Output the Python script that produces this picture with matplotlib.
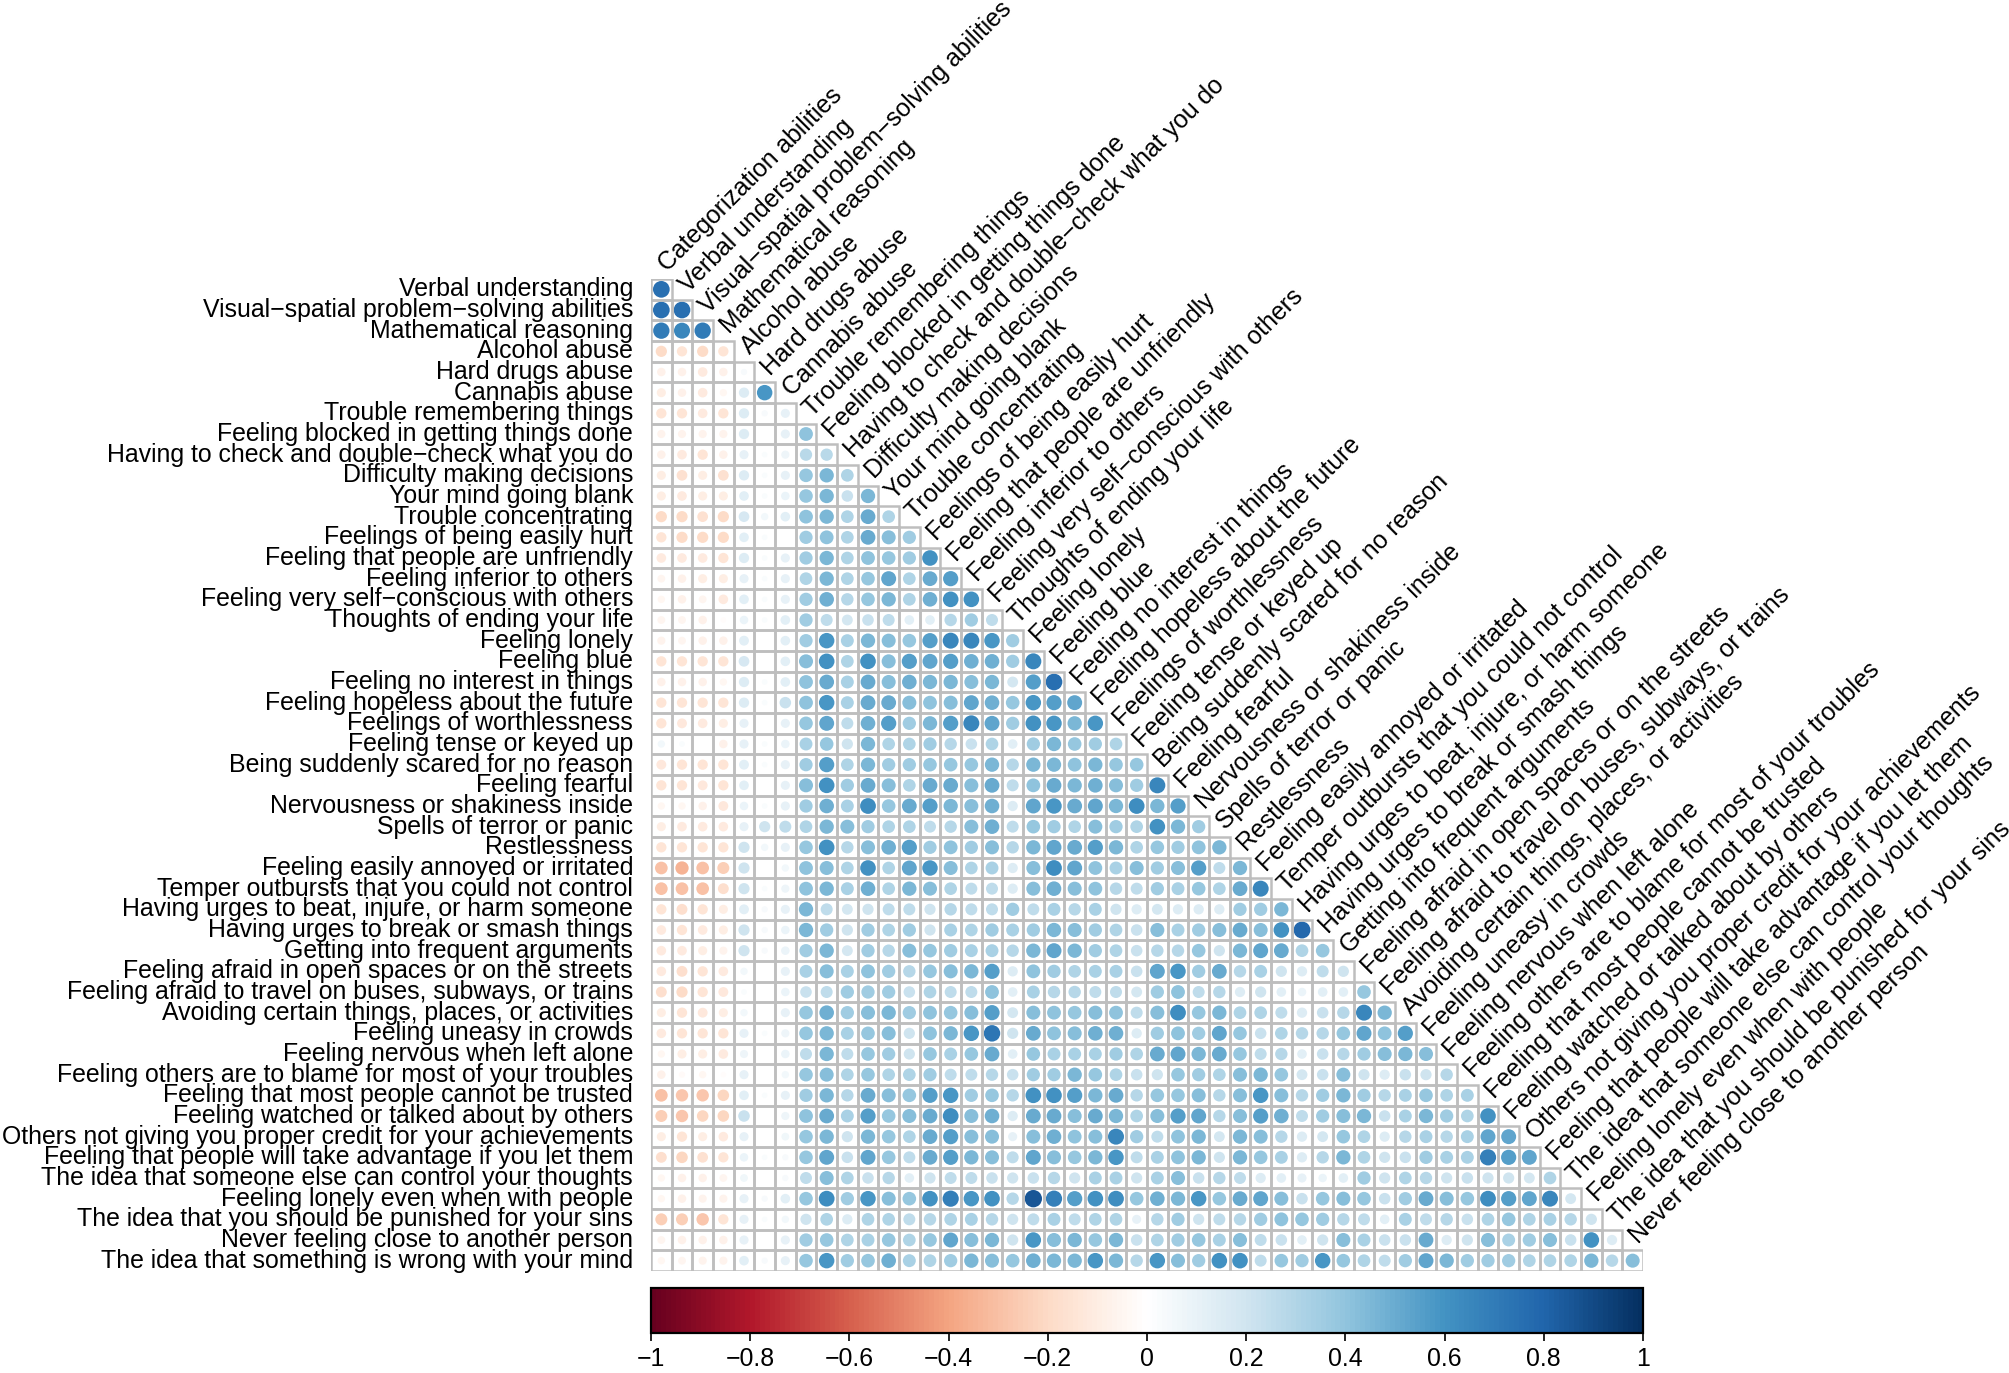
import matplotlib
matplotlib.use("Agg")
import matplotlib as mpl
import matplotlib.pyplot as plt
import numpy as np
from matplotlib.colors import LinearSegmentedColormap, Normalize
from matplotlib.patches import Circle, Rectangle

plt.rcParams['font.family'] = ['Liberation Sans', 'DejaVu Sans']

# variable names (rows use labels[1:], columns use labels[:-1])
labels = [
    "Categorization abilities",
    "Verbal understanding",
    "Visual\u2212spatial problem\u2212solving abilities",
    "Mathematical reasoning",
    "Alcohol abuse",
    "Hard drugs abuse",
    "Cannabis abuse",
    "Trouble remembering things",
    "Feeling blocked in getting things done",
    "Having to check and double\u2212check what you do",
    "Difficulty making decisions",
    "Your mind going blank",
    "Trouble concentrating",
    "Feelings of being easily hurt",
    "Feeling that people are unfriendly",
    "Feeling inferior to others",
    "Feeling very self\u2212conscious with others",
    "Thoughts of ending your life",
    "Feeling lonely",
    "Feeling blue",
    "Feeling no interest in things",
    "Feeling hopeless about the future",
    "Feelings of worthlessness",
    "Feeling tense or keyed up",
    "Being suddenly scared for no reason",
    "Feeling fearful",
    "Nervousness or shakiness inside",
    "Spells of terror or panic",
    "Restlessness",
    "Feeling easily annoyed or irritated",
    "Temper outbursts that you could not control",
    "Having urges to beat, injure, or harm someone",
    "Having urges to break or smash things",
    "Getting into frequent arguments",
    "Feeling afraid in open spaces or on the streets",
    "Feeling afraid to travel on buses, subways, or trains",
    "Avoiding certain things, places, or activities",
    "Feeling uneasy in crowds",
    "Feeling nervous when left alone",
    "Feeling others are to blame for most of your troubles",
    "Feeling that most people cannot be trusted",
    "Feeling watched or talked about by others",
    "Others not giving you proper credit for your achievements",
    "Feeling that people will take advantage if you let them",
    "The idea that someone else can control your thoughts",
    "Feeling lonely even when with people",
    "The idea that you should be punished for your sins",
    "Never feeling close to another person",
    "The idea that something is wrong with your mind",
]

# lower triangle correlations (x100), row i vs columns 1..i
corr_rows = [
    [75],
    [75, 75],
    [70, 65, 70],
    [-20, -15, -20, -15],
    [-8, -8, -12, -8, 3],
    [-10, -8, -12, -5, 15, 58],
    [-15, -15, -12, -15, 15, 3, 10],
    [-7, -7, -7, -7, 15, 0, 10, 40],
    [-8, -12, -15, -8, 10, 2, 7, 27, 27],
    [-10, -17, -10, -17, 15, 2, 10, 38, 45, 30],
    [-10, -12, -10, -10, 12, 2, 8, 38, 45, 22, 45],
    [-20, -20, -17, -20, 17, 5, 12, 40, 45, 30, 50, 30],
    [-15, -20, -20, -20, 12, 2, 0, 35, 40, 30, 50, 42, 35],
    [-12, -12, -12, -15, 15, 2, 10, 35, 45, 30, 40, 38, 35, 60],
    [-6, -8, -10, -10, 10, 2, 10, 30, 45, 30, 38, 52, 30, 50, 55],
    [-5, -8, -6, -12, 12, 2, 10, 35, 48, 28, 38, 45, 30, 48, 60, 60],
    [-6, -6, -8, -2, 8, 2, 12, 35, 25, 18, 22, 25, 12, 12, 28, 35, 25],
    [-7, -6, -8, -8, 13, 0, 12, 35, 58, 32, 45, 42, 38, 55, 65, 65, 58, 35],
    [-15, -15, -15, -15, 17, 0, 12, 42, 60, 30, 60, 42, 55, 52, 55, 48, 48, 35, 65],
    [-8, -8, -8, -5, 15, 2, 12, 40, 50, 32, 50, 42, 48, 45, 45, 42, 45, 18, 55, 75],
    [-15, -15, -15, -15, 15, 2, 22, 40, 58, 32, 50, 50, 42, 40, 42, 52, 48, 38, 58, 55, 52],
    [-15, -13, -12, -10, 10, 0, 10, 38, 52, 25, 48, 55, 35, 45, 55, 65, 52, 35, 60, 58, 45, 58],
    [5, 2, 0, -8, 10, 2, 8, 32, 38, 20, 45, 30, 30, 35, 28, 22, 30, 12, 35, 45, 38, 35, 30],
    [-13, -15, -15, -15, 13, 2, 10, 35, 55, 30, 45, 35, 35, 38, 38, 38, 45, 28, 45, 45, 40, 45, 38, 38],
    [-15, -15, -13, -15, 12, 0, 10, 42, 60, 35, 50, 42, 30, 50, 50, 42, 50, 25, 40, 50, 45, 48, 42, 35, 65],
    [-5, -5, -8, -13, 8, 2, 10, 35, 48, 32, 62, 38, 50, 55, 45, 42, 48, 15, 52, 58, 50, 52, 45, 62, 45, 55],
    [-10, -12, -12, -12, 10, 20, 25, 30, 45, 42, 35, 30, 30, 25, 28, 42, 48, 25, 38, 35, 30, 42, 35, 30, 60, 45, 35],
    [-15, -15, -15, -15, 20, 5, 10, 38, 60, 28, 42, 48, 55, 35, 40, 35, 42, 28, 45, 52, 50, 55, 45, 30, 38, 35, 40, 45],
    [-30, -35, -30, -25, 20, 0, 5, 40, 42, 30, 60, 30, 52, 58, 42, 30, 32, 15, 42, 62, 52, 40, 32, 42, 35, 42, 55, 25, 45],
    [-30, -30, -30, -18, 20, 2, 7, 40, 45, 32, 48, 30, 45, 42, 30, 25, 25, 15, 42, 48, 42, 40, 28, 25, 35, 32, 38, 30, 50, 65],
    [-15, -18, -15, -10, 13, 3, 10, 45, 25, 18, 20, 25, 25, 20, 28, 25, 25, 35, 25, 32, 28, 32, 20, 15, 18, 15, 15, 15, 35, 35, 45],
    [-12, -15, -12, -10, 20, 3, 8, 45, 35, 20, 35, 30, 35, 20, 32, 30, 35, 32, 35, 45, 42, 35, 30, 22, 42, 32, 35, 42, 50, 42, 60, 78],
    [-12, -12, -10, -7, 20, 3, 8, 35, 45, 18, 35, 28, 42, 38, 35, 32, 32, 28, 45, 52, 45, 35, 30, 22, 28, 28, 38, 20, 45, 52, 50, 30, 38],
    [-12, -18, -15, -12, 5, 0, 10, 32, 42, 32, 40, 35, 28, 38, 42, 45, 55, 15, 40, 35, 30, 32, 32, 22, 52, 58, 35, 50, 28, 32, 20, 15, 25, 20],
    [-18, -20, -15, -13, 2, 0, 8, 22, 25, 35, 35, 35, 22, 30, 25, 25, 40, 12, 32, 28, 28, 25, 25, 18, 35, 40, 25, 28, 15, 20, 12, 8, 12, 12, 38],
    [-10, -15, -13, -10, 5, 0, 10, 38, 48, 35, 42, 45, 35, 40, 38, 42, 55, 18, 42, 40, 38, 42, 40, 25, 42, 62, 38, 45, 30, 30, 25, 15, 22, 28, 65, 45],
    [-12, -15, -15, -15, 10, 2, 7, 38, 45, 32, 38, 42, 20, 40, 45, 58, 72, 20, 50, 40, 42, 48, 48, 15, 35, 40, 35, 52, 38, 22, 30, 28, 28, 38, 52, 40, 55],
    [-5, -10, -10, -12, 7, 0, 8, 25, 45, 25, 38, 35, 20, 38, 32, 38, 50, 12, 38, 32, 32, 32, 35, 30, 50, 52, 45, 50, 38, 25, 28, 12, 22, 28, 35, 42, 45, 42],
    [-8, -3, -5, -2, 10, 0, 5, 38, 42, 30, 38, 30, 30, 35, 25, 25, 28, 22, 35, 35, 45, 38, 30, 22, 20, 38, 35, 30, 42, 45, 38, 18, 22, 42, 20, 15, 22, 20, 28],
    [-30, -28, -28, -22, 12, 2, 10, 35, 45, 28, 50, 42, 38, 55, 58, 35, 38, 28, 60, 60, 55, 45, 50, 28, 38, 38, 42, 28, 42, 58, 42, 28, 35, 45, 35, 28, 32, 38, 30, 32],
    [-25, -28, -22, -22, 22, 0, 7, 40, 50, 32, 55, 38, 42, 50, 62, 42, 48, 15, 50, 50, 42, 50, 45, 30, 42, 55, 52, 28, 42, 55, 48, 25, 35, 42, 45, 22, 32, 45, 35, 30, 60],
    [-10, -15, -10, -12, 10, 0, 6, 38, 45, 20, 45, 38, 30, 50, 55, 42, 42, 10, 42, 48, 40, 42, 65, 35, 25, 40, 45, 18, 45, 42, 28, 15, 18, 38, 30, 15, 28, 32, 28, 32, 52, 52],
    [-18, -22, -17, -15, 8, 2, 3, 38, 52, 22, 52, 38, 25, 50, 55, 45, 42, 25, 52, 42, 38, 45, 58, 25, 32, 40, 45, 20, 45, 38, 32, 15, 28, 45, 30, 20, 22, 35, 32, 32, 68, 55, 52],
    [-5, -8, -8, -6, 6, 0, 3, 25, 42, 30, 22, 28, 12, 20, 25, 25, 22, 20, 22, 28, 20, 32, 32, 20, 32, 42, 22, 28, 25, 15, 12, 10, 8, 12, 35, 20, 30, 28, 20, 22, 20, 20, 18, 30],
    [-5, -8, -7, -7, 10, 3, 12, 38, 62, 35, 58, 42, 38, 60, 68, 58, 60, 28, 85, 68, 55, 60, 62, 38, 48, 45, 58, 38, 50, 52, 42, 22, 38, 42, 38, 22, 35, 50, 42, 38, 62, 55, 52, 65, 18],
    [-25, -25, -28, -15, 10, 2, 5, 20, 30, 15, 30, 30, 25, 28, 30, 32, 28, 20, 25, 32, 25, 30, 30, 10, 28, 35, 20, 25, 28, 35, 40, 38, 35, 28, 25, 12, 32, 25, 28, 22, 30, 38, 30, 32, 28, 20],
    [-6, -8, -8, -8, 10, 0, 10, 35, 38, 30, 32, 38, 30, 38, 52, 42, 45, 20, 58, 42, 45, 38, 45, 22, 30, 35, 38, 32, 42, 25, 22, 12, 20, 42, 32, 22, 22, 50, 15, 20, 42, 32, 35, 42, 22, 60, 15],
    [-5, -6, -7, -7, 12, 3, 10, 38, 58, 35, 38, 48, 32, 30, 35, 45, 42, 38, 48, 45, 45, 58, 45, 28, 58, 42, 35, 60, 60, 25, 38, 35, 58, 38, 30, 25, 35, 52, 45, 35, 35, 35, 30, 30, 30, 45, 28, 42],
]

cbar_ticks = [-1, -0.8, -0.6, -0.4, -0.2, 0, 0.2, 0.4, 0.6, 0.8, 1]
cbar_labels = ["\u22121", "\u22120.8", "\u22120.6", "\u22120.4", "\u22120.2", "0",
               "0.2", "0.4", "0.6", "0.8", "1"]

# corrplot's RdBu palette
rdbu = ["#67001F", "#B2182B", "#D6604D", "#F4A582", "#FDDBC7", "#FFFFFF",
        "#D1E5F0", "#92C5DE", "#4393C3", "#2166AC", "#053061"]
cmap = LinearSegmentedColormap.from_list("corrplot_rdbu", rdbu, N=200)
norm = Normalize(-1, 1)

n = len(labels) - 1
for i, row in enumerate(corr_rows):
    assert len(row) == i + 1, i

W, H = 2009, 1373
fig = plt.figure(figsize=(W / 100, H / 100), dpi=100)
ax = fig.add_axes([651 / W, 1 - 1271 / H, 992 / W, 992 / H])
ax.set_xlim(0.5, n + 0.5)
ax.set_ylim(n + 0.5, 0.5)
ax.axis('off')

fs = 17.9
for r, row in enumerate(corr_rows, start=1):
    for c, v in enumerate(row, start=1):
        v = v / 100
        ax.add_patch(Rectangle((c - 0.5, r - 0.5), 1, 1, fill=False,
                               edgecolor='#BEBEBE', lw=1.8, zorder=3))
        rad = min(0.44 * abs(v) ** 0.3, 0.46)
        if rad > 0:
            ax.add_patch(Circle((c, r), rad, facecolor=cmap(norm(v)),
                                edgecolor='none', zorder=2))
    ax.text(-0.37, r, labels[r], ha='right', va='center', fontsize=fs)

for c in range(1, n + 1):
    ax.text(c + 0.3, c - 0.8, labels[c - 1], rotation=45, rotation_mode='anchor',
            ha='left', va='baseline', fontsize=fs)

# colour legend
cax = fig.add_axes([651 / W, 1 - 1333 / H, 992 / W, 45 / H])
cb = mpl.colorbar.ColorbarBase(cax, cmap=cmap, norm=norm, orientation='horizontal')
cb.set_ticks(cbar_ticks)
cb.set_ticklabels(cbar_labels)
cb.outline.set_linewidth(1.6)
cax.tick_params(axis='x', length=6, width=1.2, labelsize=fs, pad=4)

fig.savefig("out.png", dpi=100, facecolor='white')
